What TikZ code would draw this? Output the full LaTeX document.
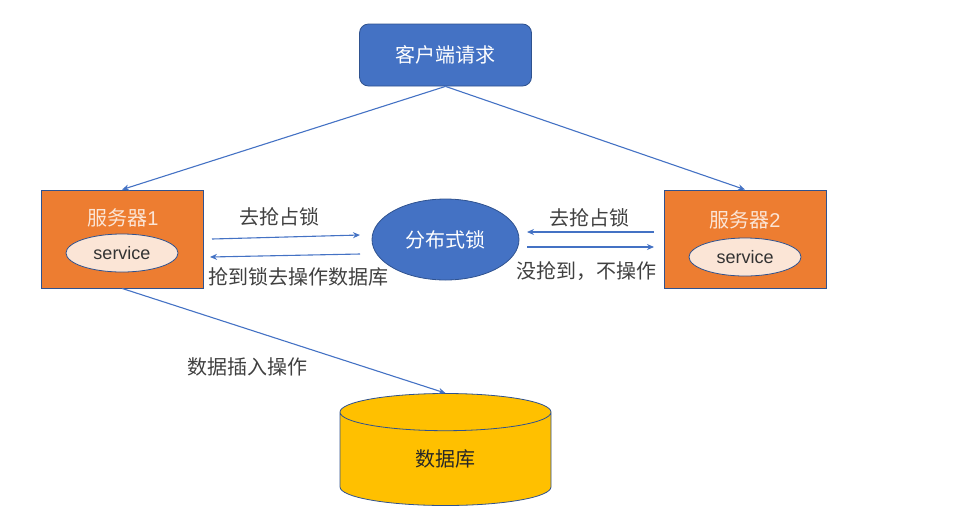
\documentclass[tikz,border=0pt]{standalone}
\usepackage{fontspec}
\setmainfont{Liberation Sans}
\newfontfamily\cjk{Noto Sans CJK SC}
\usetikzlibrary{shapes.geometric,shapes.symbols,arrows.meta}
\definecolor{bluecolor}{HTML}{4472C4}
\definecolor{edgecolor}{HTML}{2F528F}
\definecolor{servercolor}{HTML}{ED7D31}
\definecolor{servicecolor}{HTML}{FBE5D6}
\definecolor{dbcolor}{HTML}{FFC000}
\definecolor{labelcolor}{HTML}{404040}

\begin{document}
\begin{tikzpicture}[
    x=1pt, y=-1pt,
    inner sep=0pt,
    client/.style={rectangle, rounded corners=9pt, draw=edgecolor, line width=0.8pt, fill=bluecolor, text=white, font=\fontsize{20}{24}\cjk, minimum width=172pt, minimum height=62pt},
    server/.style={rectangle, draw=edgecolor, line width=0.8pt, fill=servercolor, minimum width=162pt, minimum height=98pt},
    servername/.style={text=servicecolor, font=\fontsize{20}{24}\cjk},
    service/.style={ellipse, draw=edgecolor, line width=0.8pt, fill=servicecolor, text=black!80, font=\fontsize{18}{22}\selectfont, minimum width=112pt, minimum height=38pt},
    lock/.style={ellipse, draw=edgecolor, line width=0.8pt, fill=bluecolor, text=white, font=\fontsize{20}{24}\cjk, minimum width=147pt, minimum height=81pt},
    database/.style={cylinder, shape border rotate=90, aspect=0.62, draw=edgecolor, line width=0.8pt, fill=dbcolor, text=labelcolor!60!black, font=\fontsize{20}{24}\cjk, minimum width=211pt, minimum height=112pt},
    note/.style={text=labelcolor, font=\fontsize{20}{24}\cjk},
    arrow/.style={-{Stealth[length=7pt,width=6pt]}, draw=bluecolor, line width=1.1pt}
]
\useasboundingbox (0,0) rectangle (968,520);

% Main shapes
\node[client] (client) at (445.5,55) {客户端请求};
\node[server] (server1) at (122,239) {};
\node[server] (server2) at (745,239) {};
\node[lock] (lock) at (445.5,239.5) {分布式锁};
\node[database] (db) at (445.5,459) {数据库};

% Inside the servers
\node[servername] (name1) at (123,218) {服务器{\fontspec{Liberation Sans}1}};
\node[servername] (name2) at (745,220) {服务器{\fontspec{Liberation Sans}2}};
\node[service] (service1) at (122,253) {service};
\node[service] (service2) at (745,257) {service};

% Free ends of the lock arrows
\coordinate (in1a) at (212,239);
\coordinate (in1b) at (360,235);
\coordinate (out1a) at (360,254);
\coordinate (out1b) at (210,257);
\coordinate (in2a) at (654,232);
\coordinate (in2b) at (527,232);
\coordinate (out2a) at (527,247);
\coordinate (out2b) at (654,247);

% Arrows
\draw[arrow] (client.south) -- (server1.north);
\draw[arrow] (client.south) -- (server2.north);
\draw[arrow] (server1.south) -- (db.north);
\draw[arrow] (in1a) -- (in1b);
\draw[arrow] (out1a) -- (out1b);
\draw[arrow] (in2a) -- (in2b);
\draw[arrow] (out2a) -- (out2b);

% Labels
\node[note] (grab1) at (279,217) {去抢占锁};
\node[note] (got1) at (298,277) {抢到锁去操作数据库};
\node[note] (grab2) at (589,218) {去抢占锁};
\node[note] (miss2) at (586,271) {没抢到^^^^ff0c不操作};
\node[note] (insert) at (247,367) {数据插入操作};

\end{tikzpicture}
\end{document}
